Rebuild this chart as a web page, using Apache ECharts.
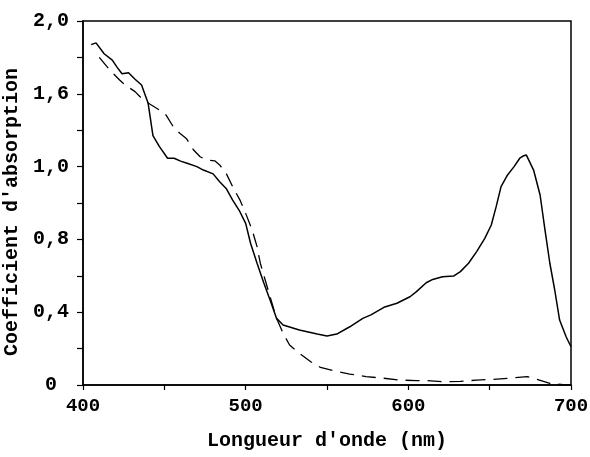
<!DOCTYPE html>
<html><head><meta charset="utf-8">
<script src="https://cdn.jsdelivr.net/npm/echarts@6/dist/echarts.min.js"></script>
<style>html,body{margin:0;padding:0;background:#fff}#c{width:590px;height:457px}</style>
</head><body><div id="c"></div>
<script>
const solidNm = [405,408,413,418,421,424,428,432,436,440,443,447,452,456,460,464,470,474,480,484,488,492,496,500,503,507,511,515,519,523,533,544,550,556,564,572,577,585,593,601,605,611,615,621,628,632,637,642,647,651,654,657,661,665,668.5,670.5,672.5,677,681,684,687,690,693,697,700];
const solidVal = [1.87,1.88,1.82,1.785,1.745,1.71,1.716,1.68,1.648,1.55,1.37,1.31,1.246,1.246,1.23,1.218,1.2,1.181,1.16,1.117,1.08,1.016,0.96,0.888,0.779,0.669,0.565,0.467,0.366,0.33,0.302,0.28,0.269,0.28,0.32,0.366,0.385,0.427,0.449,0.485,0.513,0.562,0.58,0.595,0.599,0.623,0.669,0.733,0.806,0.879,0.98,1.09,1.154,1.2,1.246,1.258,1.264,1.181,1.044,0.852,0.669,0.522,0.357,0.265,0.21];
const dashNm = [410,416.5,422.5,426,432,436,441,447,451,455.5,459.5,463.5,468,472,476,481,484,488,492,496.5,500,504,507,509,512,515,519,523,527,533,540,546,554,564,574,585,595,605,611,621,632,642,652,662,673,679,687,697,700];
const dashVal = [1.80,1.73,1.676,1.648,1.612,1.575,1.544,1.511,1.484,1.419,1.383,1.355,1.291,1.254,1.236,1.232,1.209,1.163,1.09,1.016,0.943,0.852,0.76,0.669,0.577,0.485,0.366,0.284,0.22,0.174,0.128,0.097,0.079,0.06,0.046,0.037,0.027,0.024,0.024,0.018,0.02,0.027,0.031,0.037,0.046,0.031,0.009,0.0,0.0];
const yTickValues = [0,0.4,0.8,1.2,1.6,2.0];
const yTickLabels = ['0','0,4','0,8','1,0','1,6','2,0'];
const xTickValues = [400,500,600,700];
const xTickLabels = ['400','500','600','700'];
const xTitle = "Longueur d'onde (nm)";
const yTitle = "Coefficient d'absorption";

const font = "'Liberation Mono', 'Courier New', monospace";
const chart = echarts.init(document.getElementById('c'), null, {renderer:'canvas'});
function pairs(xs, ys){ return xs.map((x,i)=>[x, ys[i]]); }
chart.setOption({
  animation:false,
  backgroundColor:'#fff',
  grid:{left:83,right:19,top:21,bottom:72,show:true,borderColor:'#000',borderWidth:1.5,backgroundColor:'transparent',
    containLabel:false,outerBoundsMode:'none'},
  xAxis:{type:'value',min:400,max:700,interval:50,
    name:xTitle,nameLocation:'middle',nameGap:46,
    nameTextStyle:{fontFamily:font,fontWeight:'bold',fontSize:20,color:'#000'},
    axisLine:{show:true,lineStyle:{color:'#000',width:1.5}},
    axisTick:{show:true,inside:false,length:5,lineStyle:{color:'#000',width:1.2}},
    axisLabel:{margin:12,fontFamily:font,fontWeight:'bold',fontSize:19,color:'#000',
      formatter:v=>{const i=xTickValues.indexOf(v);return i>=0?xTickLabels[i]:'';}},
    splitLine:{show:false}},
  yAxis:{type:'value',min:0,max:2,interval:0.2,
    name:yTitle,nameLocation:'middle',nameGap:49,nameRotate:90,
    nameTextStyle:{fontFamily:font,fontWeight:'bold',fontSize:20,color:'#000',padding:[0,18,0,0]},
    axisLine:{show:true,lineStyle:{color:'#000',width:1.5}},
    axisTick:{show:true,inside:false,length:6,lineStyle:{color:'#000',width:1.2}},
    axisLabel:{margin:32,align:'center',fontFamily:font,fontWeight:'bold',fontSize:20,color:'#000',
      formatter:v=>{const i=yTickValues.findIndex(t=>Math.abs(t-v)<1e-6);return i>=0?yTickLabels[i]:'';}},
    splitLine:{show:false}},
  series:[
    {type:'line',data:pairs(solidNm,solidVal),showSymbol:false,symbol:'none',
      lineStyle:{color:'#000',width:1.5},smooth:false},
    {type:'line',data:pairs(dashNm,dashVal),showSymbol:false,symbol:'none',
      lineStyle:{color:'#000',width:1.3,type:[14,8]},smooth:false}
  ]
});
</script></body></html>
